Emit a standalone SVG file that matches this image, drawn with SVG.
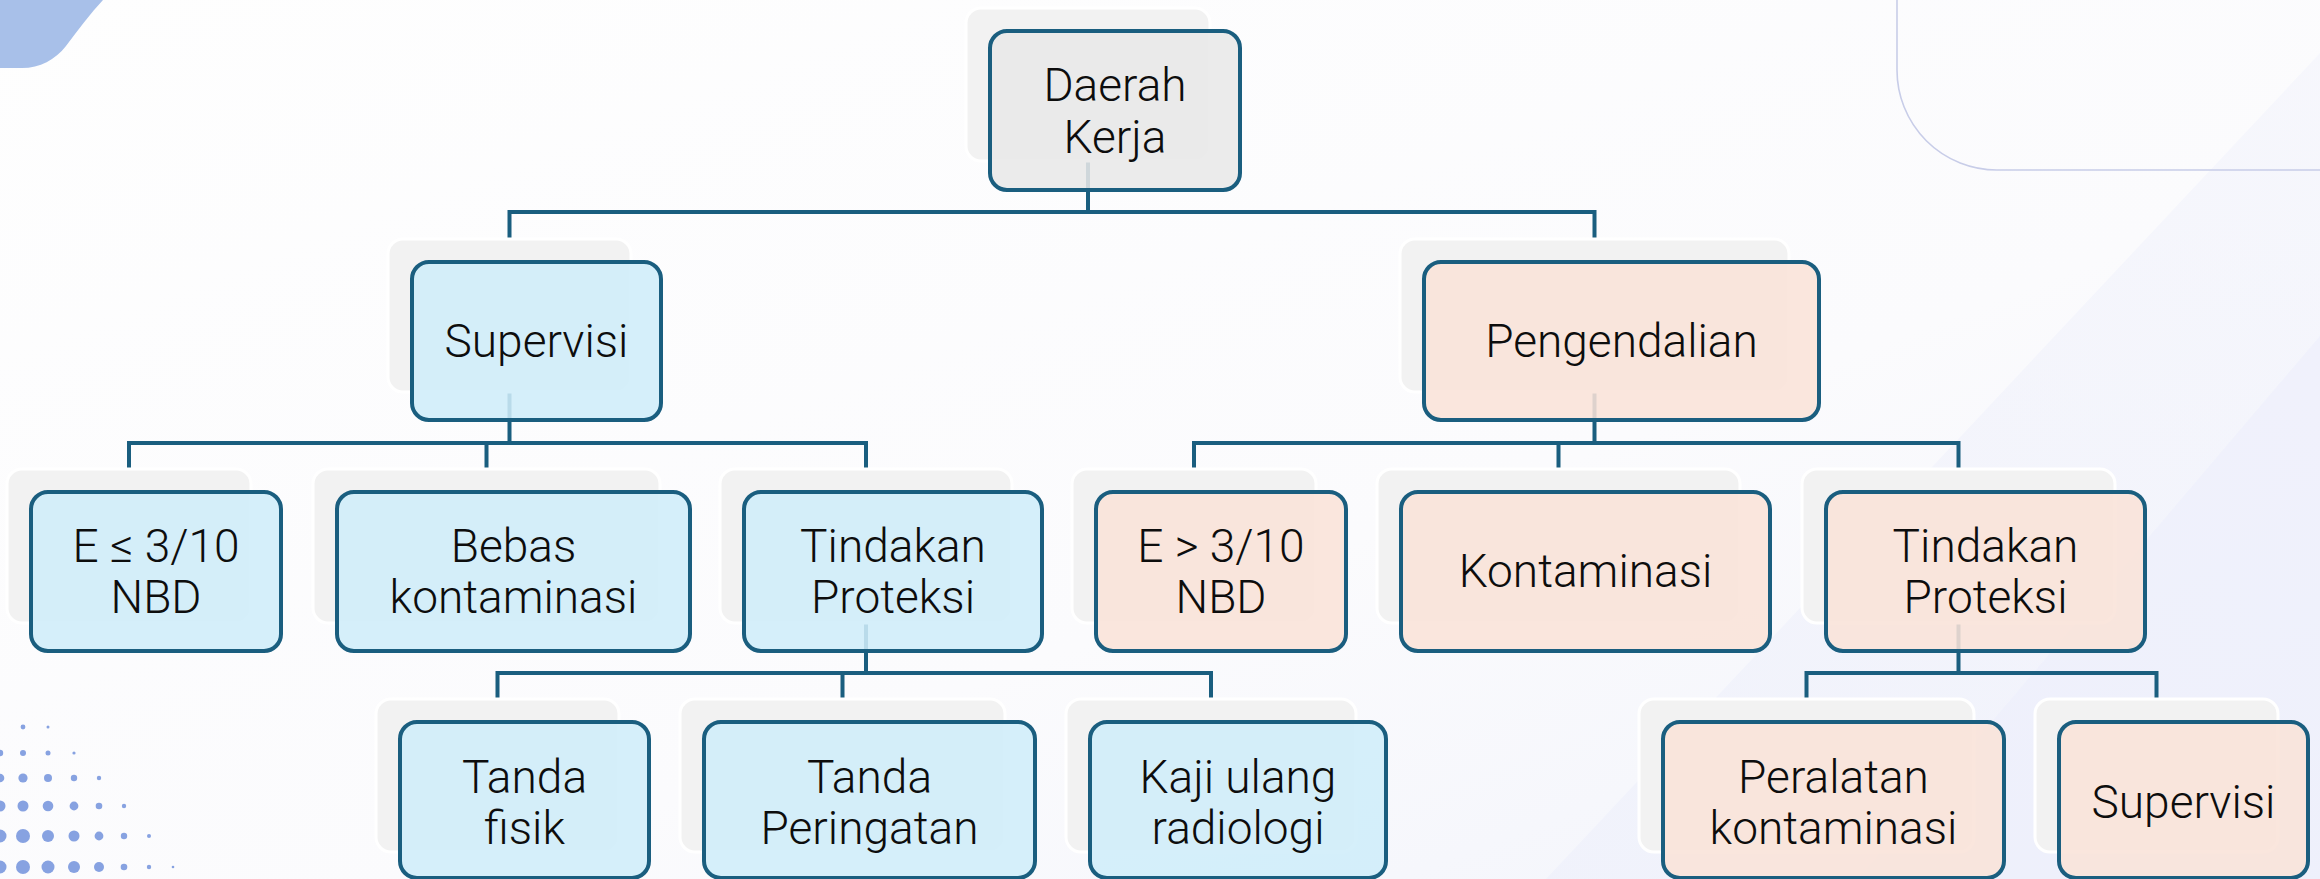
<svg xmlns="http://www.w3.org/2000/svg" width="2320" height="879" viewBox="0 0 2320 879">
  <defs>
    <linearGradient id="bgGrad" x1="0" y1="0" x2="1" y2="1">
      <stop offset="0" stop-color="#fefefe"/>
      <stop offset="0.6" stop-color="#fbfbfd"/>
      <stop offset="1" stop-color="#f1f3fb"/>
    </linearGradient>
    <linearGradient id="bandGrad" x1="1" y1="0" x2="0" y2="1">
      <stop offset="0" stop-color="#f4f5fc"/>
      <stop offset="1" stop-color="#eef0fb"/>
    </linearGradient>
  </defs>
  <style>
    .shadow { fill: #f2f2f2; stroke: #ffffff; stroke-width: 3; }
    .box { stroke: #1a5e7f; stroke-width: 4; fill-opacity: 0.88; }
    .blue { fill: #cfedf9; }
    .peach { fill: #f9e3d8; }
    .grey { fill: #e8e8e8; }
    .lbl { font-family: Roboto, "Liberation Sans", sans-serif; font-size: 46px; font-weight: 300; fill: #0d0d0d; text-anchor: middle; }
    .conn { stroke: #1a5e7f; stroke-width: 4; fill: none; stroke-linecap: square; }
    .dot { fill: #7393dd; }
  </style>

  <!-- background -->
  <rect x="0" y="0" width="2320" height="879" fill="url(#bgGrad)"/>
  <polygon points="2320,53 2320,879 1546,879" fill="url(#bandGrad)" opacity="0.7"/>
  <polygon points="2320,336 2320,879 1858,879" fill="#eceefb" opacity="0.6"/>
  <path d="M0,0 L103,0 C90,14 78,30 66,46 C55,60 40,68 22,68 L0,68 Z" fill="#a8c0e9"/>
  <rect x="1897" y="-130" width="620" height="300" rx="100" ry="100" fill="none" stroke="#c8cde8" stroke-width="1.6"/>

  <!-- halftone dots -->
  <g id="dots" opacity="0.85">
    <circle class="dot" cx="23" cy="727" r="2.4"/>
    <circle class="dot" cx="48" cy="727" r="1.5"/>
    <circle class="dot" cx="0" cy="753" r="3.2"/>
    <circle class="dot" cx="23" cy="753" r="3"/>
    <circle class="dot" cx="48" cy="753" r="2.5"/>
    <circle class="dot" cx="74" cy="753" r="1.6"/>
    <circle class="dot" cx="0" cy="778" r="4.3"/>
    <circle class="dot" cx="23" cy="778" r="4.6"/>
    <circle class="dot" cx="48" cy="778" r="4"/>
    <circle class="dot" cx="74" cy="778" r="3.2"/>
    <circle class="dot" cx="99" cy="778" r="2.2"/>
    <circle class="dot" cx="0" cy="806" r="5.5"/>
    <circle class="dot" cx="23" cy="806" r="5.5"/>
    <circle class="dot" cx="48" cy="806" r="5.3"/>
    <circle class="dot" cx="74" cy="806" r="4.4"/>
    <circle class="dot" cx="99" cy="806" r="3.3"/>
    <circle class="dot" cx="124" cy="806" r="2.2"/>
    <circle class="dot" cx="0" cy="836" r="6.5"/>
    <circle class="dot" cx="23" cy="836" r="7"/>
    <circle class="dot" cx="48" cy="836" r="6"/>
    <circle class="dot" cx="74" cy="836" r="5.5"/>
    <circle class="dot" cx="99" cy="836" r="4.4"/>
    <circle class="dot" cx="124" cy="836" r="3.2"/>
    <circle class="dot" cx="149" cy="836" r="2"/>
    <circle class="dot" cx="0" cy="867" r="6.5"/>
    <circle class="dot" cx="23" cy="867" r="7"/>
    <circle class="dot" cx="48" cy="867" r="6.5"/>
    <circle class="dot" cx="74" cy="867" r="6"/>
    <circle class="dot" cx="99" cy="867" r="5"/>
    <circle class="dot" cx="124" cy="867" r="3.3"/>
    <circle class="dot" cx="149" cy="867" r="2.2"/>
    <circle class="dot" cx="173" cy="867" r="1.3"/>
  </g>

  <!-- connectors -->
  <g id="connectors" class="conn">
    <path d="M1088,161 V212 M509.5,212 H1594.5 M509.5,212 V239 M1594.5,212 V239"/>
    <path d="M509.5,392 V443 M129,443 H866 M129,443 V469 M486.5,443 V469 M866,443 V469"/>
    <path d="M1594.5,392 V443 M1194,443 H1958.5 M1194,443 V469 M1558.5,443 V469 M1958.5,443 V469"/>
    <path d="M866,623 V673 M497.5,673 H1211 M497.5,673 V699 M842.5,673 V699 M1211,673 V699"/>
    <path d="M1958.5,623 V673 M1806.5,673 H2156.5 M1806.5,673 V699 M2156.5,673 V699"/>
  </g>

  <!-- nodes -->
  <g id="daerah-kerja">
    <rect class="shadow" x="966" y="8" width="244" height="153" rx="15"/>
    <rect class="box grey" x="990" y="31" width="250" height="159" rx="17"/>
    <text class="lbl" x="1115" y="101">Daerah</text>
    <text class="lbl" x="1115" y="153">Kerja</text>
  </g>

  <g id="supervisi">
    <rect class="shadow" x="388" y="239" width="243" height="153" rx="15"/>
    <rect class="box blue" x="412" y="262" width="249" height="158" rx="17"/>
    <text class="lbl" x="536.5" y="357">Supervisi</text>
  </g>

  <g id="pengendalian">
    <rect class="shadow" x="1400" y="239" width="389" height="153" rx="15"/>
    <rect class="box peach" x="1424" y="262" width="395" height="158" rx="17"/>
    <text class="lbl" x="1621.5" y="357">Pengendalian</text>
  </g>

  <g id="e-le">
    <rect class="shadow" x="7" y="469" width="244" height="154" rx="15"/>
    <rect class="box blue" x="31" y="492" width="250" height="159" rx="17"/>
    <text class="lbl" x="156" y="562">E ≤ 3/10</text>
    <text class="lbl" x="156" y="613">NBD</text>
  </g>

  <g id="bebas-kontaminasi">
    <rect class="shadow" x="313" y="469" width="347" height="154" rx="15"/>
    <rect class="box blue" x="337" y="492" width="353" height="159" rx="17"/>
    <text class="lbl" x="513.5" y="562">Bebas</text>
    <text class="lbl" x="513.5" y="613">kontaminasi</text>
  </g>

  <g id="tindakan-proteksi-1">
    <rect class="shadow" x="720" y="469" width="292" height="154" rx="15"/>
    <rect class="box blue" x="744" y="492" width="298" height="159" rx="17"/>
    <text class="lbl" x="893" y="562">Tindakan</text>
    <text class="lbl" x="893" y="613">Proteksi</text>
  </g>

  <g id="e-gt">
    <rect class="shadow" x="1072" y="469" width="244" height="154" rx="15"/>
    <rect class="box peach" x="1096" y="492" width="250" height="159" rx="17"/>
    <text class="lbl" x="1221" y="562">E &gt; 3/10</text>
    <text class="lbl" x="1221" y="613">NBD</text>
  </g>

  <g id="kontaminasi">
    <rect class="shadow" x="1377" y="469" width="363" height="154" rx="15"/>
    <rect class="box peach" x="1401" y="492" width="369" height="159" rx="17"/>
    <text class="lbl" x="1585.5" y="587">Kontaminasi</text>
  </g>

  <g id="tindakan-proteksi-2">
    <rect class="shadow" x="1802" y="469" width="313" height="154" rx="15"/>
    <rect class="box peach" x="1826" y="492" width="319" height="159" rx="17"/>
    <text class="lbl" x="1985.5" y="562">Tindakan</text>
    <text class="lbl" x="1985.5" y="613">Proteksi</text>
  </g>

  <g id="tanda-fisik">
    <rect class="shadow" x="376" y="699" width="243" height="153" rx="15"/>
    <rect class="box blue" x="400" y="722" width="249" height="156" rx="17"/>
    <text class="lbl" x="524.5" y="793">Tanda</text>
    <text class="lbl" x="524.5" y="844">fisik</text>
  </g>

  <g id="tanda-peringatan">
    <rect class="shadow" x="680" y="699" width="325" height="153" rx="15"/>
    <rect class="box blue" x="704" y="722" width="331" height="156" rx="17"/>
    <text class="lbl" x="869.5" y="793">Tanda</text>
    <text class="lbl" x="869.5" y="844">Peringatan</text>
  </g>

  <g id="kaji-ulang">
    <rect class="shadow" x="1066" y="699" width="290" height="153" rx="15"/>
    <rect class="box blue" x="1090" y="722" width="296" height="156" rx="17"/>
    <text class="lbl" x="1238" y="793">Kaji ulang</text>
    <text class="lbl" x="1238" y="844">radiologi</text>
  </g>

  <g id="peralatan-kontaminasi">
    <rect class="shadow" x="1639" y="699" width="335" height="153" rx="15"/>
    <rect class="box peach" x="1663" y="722" width="341" height="156" rx="17"/>
    <text class="lbl" x="1833.5" y="793">Peralatan</text>
    <text class="lbl" x="1833.5" y="844">kontaminasi</text>
  </g>

  <g id="supervisi-2">
    <rect class="shadow" x="2035" y="699" width="243" height="153" rx="15"/>
    <rect class="box peach" x="2059" y="722" width="249" height="156" rx="17"/>
    <text class="lbl" x="2183.5" y="818">Supervisi</text>
  </g>
</svg>
